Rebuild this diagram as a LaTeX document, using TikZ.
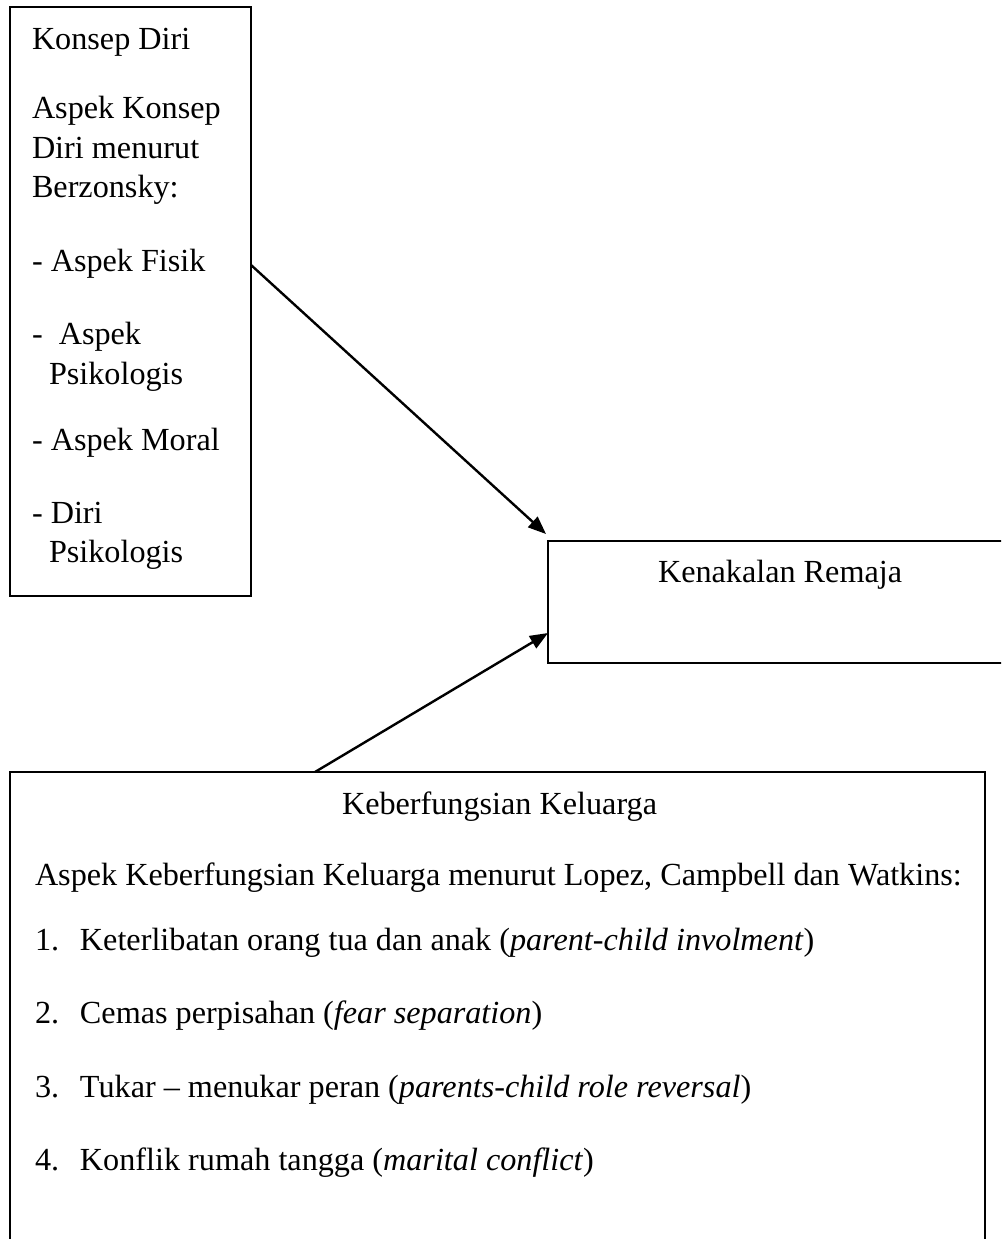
\documentclass[tikz,border=0pt]{standalone}
\usepackage{fontspec}
\setmainfont{Liberation Serif}
\usetikzlibrary{arrows.meta}
\begin{document}
\begin{tikzpicture}[x=1pt,y=-1pt,
  box/.style={draw=black, line width=2pt, inner sep=0pt, outer sep=0pt, anchor=north west},
  txt/.style={anchor=base west, inner sep=0pt, outer sep=0pt, font=\fontsize{32.2}{41.5}\selectfont},
  arr/.style={draw=black, line width=2.4pt, -{Triangle[length=18pt,width=14pt]}}]
\useasboundingbox (0,0) rectangle (1001,1239);
\clip (0,0) rectangle (1001,1239);
% boxes
\node[box, minimum width=241pt, minimum height=589pt] (kd) at (10,7) {};
\node[box, minimum width=480pt, minimum height=122pt] (kr) at (548,541) {};
\node[box, minimum width=975pt, minimum height=520pt] (kk) at (10,772) {};
% box 1 text
\node[txt] (t1) at (32,49) {Konsep Diri};
\node[txt] (t2) at (32,118) {Aspek Konsep};
\node[txt] (t3) at (32,158) {Diri menurut};
\node[txt] (t4) at (32,197) {Berzonsky:};
\node[txt] (t5) at (32,271) {- Aspek Fisik};
\node[txt] (t6) at (32,344) {-~ Aspek};
\node[txt] (t7) at (49,384) {Psikologis};
\node[txt] (t8) at (32,450) {- Aspek Moral};
\node[txt] (t9) at (32,523) {- Diri};
\node[txt] (t10) at (49,562) {Psikologis};
% box 2 text
\node[txt] (r1) at (658,582) {Kenakalan Remaja};
% box 3 text
\node[txt] (k1) at (342,814) {Keberfungsian Keluarga};
\node[txt] (k2) at (35,885) {Aspek Keberfungsian Keluarga menurut Lopez, Campbell dan Watkins:};
\node[txt] (k3) at (35,950) {\makebox[45pt][l]{1.}Keterlibatan orang tua dan anak (\textit{parent-child involment})};
\node[txt] (k4) at (35,1023) {\makebox[45pt][l]{2.}Cemas perpisahan (\textit{fear separation})};
\node[txt] (k5) at (35,1097) {\makebox[45pt][l]{3.}Tukar -- menukar peran (\textit{parents-child role reversal})};
\node[txt] (k6) at (35,1170) {\makebox[45pt][l]{4.}Konflik rumah tangga (\textit{marital conflict})};
% connectors
\coordinate (s1) at (251,265);
\coordinate (e1) at (546,534);
\coordinate (s2) at (315,772);
\coordinate (e2) at (548,633);
\draw[arr] (s1) -- (e1);
\draw[arr] (s2) -- (e2);
\end{tikzpicture}
\end{document}
